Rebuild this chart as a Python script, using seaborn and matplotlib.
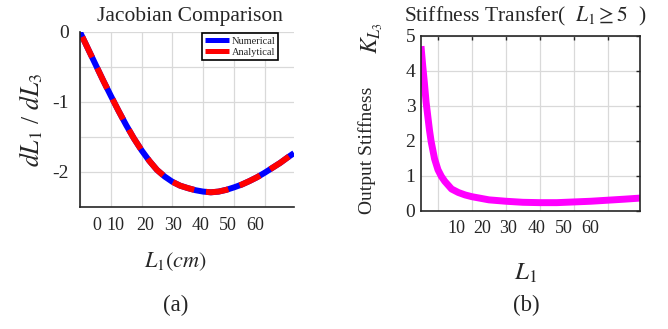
import numpy as np
import pandas as pd
import matplotlib
matplotlib.use("Agg")
import matplotlib.pyplot as plt
import seaborn as sns
from matplotlib.lines import Line2D
from matplotlib.transforms import ScaledTranslation

# ---------------- data ----------------
L1_a = [0, 2.5, 5, 7.5, 10, 12.5, 15, 17.5, 20, 22.5, 25, 27.5, 30, 32.5, 35,
        37.5, 40, 42.5, 45, 47.5, 50, 52.5, 55, 57.5, 60, 62.5, 65, 67.5, 69.5]
J_numerical = [0.0, -0.23, -0.46, -0.69, -0.91, -1.125, -1.33, -1.52, -1.69,
               -1.84, -1.97, -2.065, -2.14, -2.195, -2.23, -2.26, -2.28, -2.29,
               -2.28, -2.255, -2.22, -2.18, -2.13, -2.075, -2.01, -1.94, -1.87,
               -1.79, -1.73]
J_analytical = [0.0, -0.23, -0.46, -0.69, -0.91, -1.125, -1.33, -1.52, -1.69,
                -1.84, -1.97, -2.065, -2.14, -2.195, -2.23, -2.26, -2.28, -2.29,
                -2.28, -2.255, -2.22, -2.18, -2.13, -2.075, -2.01, -1.94, -1.87,
                -1.79, -1.73]

L1_b = [5, 5.5, 6, 6.5, 7, 7.5, 8, 9, 10, 11, 12, 14, 16, 18, 20, 25, 30, 35,
        40, 45, 50, 55, 60, 65, 69.5]
K_out = [4.70, 4.15, 3.65, 3.10, 2.70, 2.30, 1.97, 1.48, 1.17, 0.98, 0.84,
         0.62, 0.52, 0.45, 0.40, 0.31, 0.27, 0.24, 0.23, 0.23, 0.25, 0.27,
         0.30, 0.33, 0.36]

xticks_a = [0, 10, 20, 30, 40, 50, 60]
xlabels_a = ["0", "10", "20", "30", "40", "50", "60"]
yticks_a = [-2.5, -2.0, -1.5, -1.0, -0.5, 0.0]
ylabels_a = ["", "-2", "", "-1", "", "0"]
xticks_b = [10, 20, 30, 40, 50, 60]
xlabels_b = ["10", "20", "30", "40", "50", "60"]
yticks_b = [0, 1, 2, 3, 4, 5]
ylabels_b = ["0", "1", "2", "3", "4", "5"]

# ---------------- style ----------------
sns.set_style("white")
plt.rcParams["font.family"] = ["Liberation Serif", "DejaVu Serif"]
plt.rcParams["mathtext.fontset"] = "stix"

W, H = 668, 329
fig = plt.figure(figsize=(W / 100, H / 100), dpi=100)

def px_axes(l, t, r, b):
    return fig.add_axes([l / W, 1 - b / H, (r - l) / W, (b - t) / H])

ax1 = px_axes(80, 32, 294, 207)
ax2 = px_axes(421, 35.7, 640, 210.7)

grid_kw = dict(color="#d9d9d9", linewidth=0.9)
spine_color = "#262626"

# ---------------- panel (a) ----------------
df_a = pd.DataFrame({"L1": L1_a, "num": J_numerical, "ana": J_analytical})
sns.lineplot(data=df_a, x="L1", y="num", color="#0000ff", linewidth=4.3,
             ax=ax1, legend=False)
sns.lineplot(data=df_a, x="L1", y="ana", color="#ff0000", linewidth=4.3,
             ax=ax1, legend=False)
num_line, ana_line = ax1.lines[0], ax1.lines[1]
ana_line.set_linestyle((4.9, (3.8, 2.0)))
ana_line.set_linewidth(4.3)
for ln in (num_line, ana_line):
    ln.set_dash_capstyle("butt")
    ln.set_solid_capstyle("butt")
    ln.set_solid_joinstyle("round")
    ln.set_dash_joinstyle("round")

ax1.set_xlim(0, 69.5)
ax1.set_ylim(-2.5, 0)
ax1.set_xticks(xticks_a)
ax1.set_xticklabels(xlabels_a)
ax1.set_yticks(yticks_a)
ax1.set_yticklabels(ylabels_a)
ax1.grid(True, **grid_kw)
ax1.set_axisbelow(True)
for s in ["top", "right"]:
    ax1.spines[s].set_visible(False)
for s in ["left", "bottom"]:
    ax1.spines[s].set_color(spine_color)
    ax1.spines[s].set_linewidth(1.2)
ax1.tick_params(axis="both", direction="in", length=3, width=1,
                color=spine_color)
ax1.tick_params(axis="x", labelsize=13, pad=7)
ax1.tick_params(axis="y", labelsize=14, pad=8)
offs_a = [17, 5, 3.3, 0.6, -2.8, -6, -10]
for lab, dx in zip(ax1.get_xticklabels(), offs_a):
    lab.set_transform(lab.get_transform() + ScaledTranslation(dx / 100, 0, fig.dpi_scale_trans))

ax1.set_title("Jacobian Comparison", fontsize=15.5, x=0.514, pad=8)
ax1.set_xlabel(r"$L_1(cm)$", fontsize=16)
ax1.xaxis.set_label_coords(0.444, -0.245)
ax1.set_ylabel(r"$dL_1$ / $dL_3$", fontsize=18.5)
ax1.yaxis.set_label_coords(-0.165, 0.5)

handles = [Line2D([], [], color="#0000ff", lw=3.6, solid_capstyle="butt"),
           Line2D([], [], color="#ff0000", lw=3.6, solid_capstyle="butt")]
leg = ax1.legend(handles, ["Numerical", "Analytical"], loc="upper right",
                 bbox_to_anchor=(0.927, 0.993), borderaxespad=0, fontsize=7.5,
                 handlelength=2.3, handletextpad=0.2, labelspacing=0.2,
                 borderpad=0.3, fancybox=False, framealpha=1,
                 edgecolor="black")
leg.get_frame().set_linewidth(1.2)

# ---------------- panel (b) ----------------
df_b = pd.DataFrame({"L1": L1_b, "K": K_out})
sns.lineplot(data=df_b, x="L1", y="K", color="#ff00ff", linewidth=5,
             ax=ax2, legend=False)
ax2.lines[0].set_solid_capstyle("butt")
ax2.lines[0].set_solid_joinstyle("round")
ax2.set_xlim(5, 69.5)
ax2.set_ylim(0, 5)
ax2.set_xticks(xticks_b)
ax2.set_xticklabels(xlabels_b)
ax2.set_yticks(yticks_b)
ax2.set_yticklabels(ylabels_b)
ax2.grid(True, **grid_kw)
ax2.set_axisbelow(True)
for s in ax2.spines.values():
    s.set_color(spine_color)
    s.set_linewidth(1.2)
ax2.tick_params(axis="both", direction="in", length=3, width=1,
                color=spine_color, top=True, right=True)
ax2.tick_params(axis="x", labelsize=13, pad=7)
ax2.tick_params(axis="y", labelsize=14, pad=4)
offs_b = [18, 9.8, 2.5, -3, -10.3, -17.3]
for lab, dx in zip(ax2.get_xticklabels(), offs_b):
    lab.set_transform(lab.get_transform() + ScaledTranslation(dx / 100, 0, fig.dpi_scale_trans))

ax2.set_title(r"Stiffness Transfer(  $L_1 \geq 5$  )", fontsize=15.5,
              x=0.477, pad=10)
ax2.set_xlabel(r"$L_1$", fontsize=18)
ax2.xaxis.set_label_coords(0.479, -0.29)
ax2.set_ylabel("Output Stiffness", fontsize=14)
ax2.yaxis.set_label_coords(-0.205, 0.347)
fig.text(372 / W, 1 - 38 / H, r"$K_{L_3}$", fontsize=17, rotation=90,
         ha="center", va="center")

# panel tags
fig.text(176 / W, 1 - 305 / H, "(a)", fontsize=16.5, ha="center", va="center")
fig.text(526 / W, 1 - 305 / H, "(b)", fontsize=16.5, ha="center", va="center")

fig.savefig("out.png", dpi=100)
